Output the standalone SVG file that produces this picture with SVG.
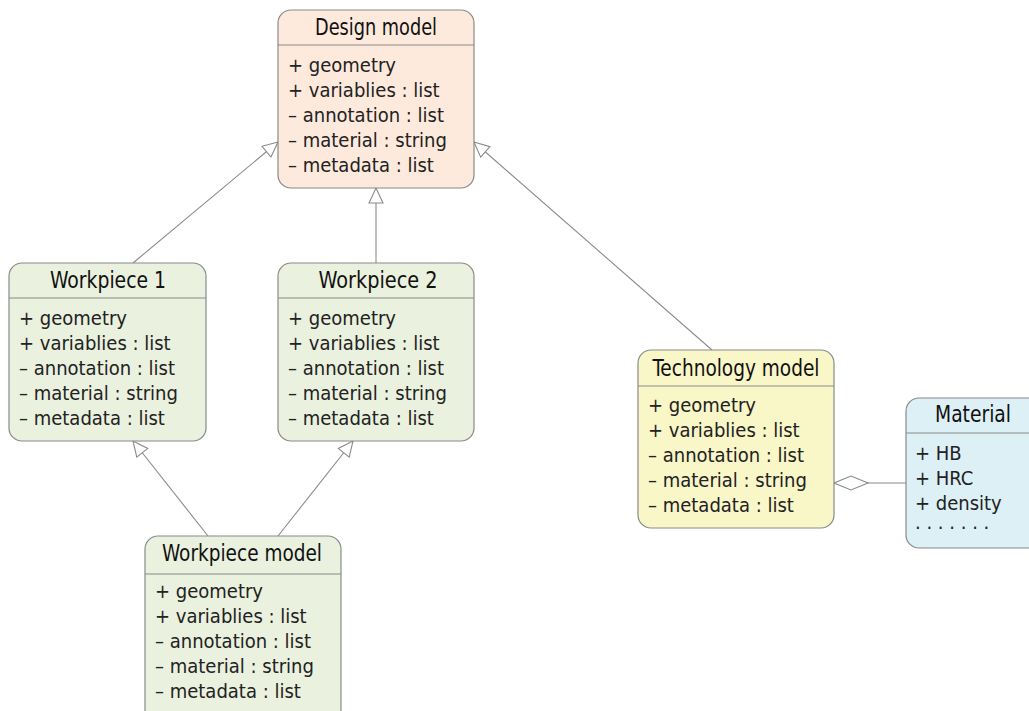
<svg xmlns="http://www.w3.org/2000/svg" width="1029" height="711" viewBox="0 0 1029 711">
<defs>
<style>
.box{stroke:#8a8a8a;stroke-width:1.2}
.sep{stroke:#8a8a8a;stroke-width:1.2}
.title{font-family:"Liberation Sans Narrow","DejaVu Sans Condensed","Liberation Sans",sans-serif;font-size:23px;fill:#111;text-anchor:middle}
.attr{font-family:"Liberation Sans Narrow","DejaVu Sans Condensed","Liberation Sans",sans-serif;font-size:20px;fill:#222}
.conn{stroke:#8a8a8a;stroke-width:1.1;fill:none}
</style>
<marker id="tri" markerWidth="18" markerHeight="16" refX="16" refY="8" orient="auto" markerUnits="userSpaceOnUse">
<path d="M1,1 L16,8 L1,15 Z" fill="#fff" stroke="#8a8a8a" stroke-width="1.1"/>
</marker>
<marker id="dia" markerWidth="36" markerHeight="18" refX="35" refY="9" orient="auto" markerUnits="userSpaceOnUse">
<path d="M1,9 L18,2 L35,9 L18,16 Z" fill="#fff" stroke="#8a8a8a" stroke-width="1.1"/>
</marker>
</defs>
<rect width="1029" height="711" fill="#fff"/>
<g id="connectors">
<line class="conn" x1="133" y1="263" x2="278" y2="142" marker-end="url(#tri)"/>
<line class="conn" x1="376" y1="263" x2="376" y2="188" marker-end="url(#tri)"/>
<line class="conn" x1="712" y1="350" x2="474" y2="142" marker-end="url(#tri)"/>
<line class="conn" x1="208" y1="536" x2="133" y2="441" marker-end="url(#tri)"/>
<line class="conn" x1="278" y1="536" x2="353" y2="441" marker-end="url(#tri)"/>
<line class="conn" x1="906" y1="483" x2="834" y2="483" marker-end="url(#dia)"/>
</g>
<g id="design-model">
<rect class="box" x="278" y="10" width="196" height="178" rx="13" fill="#fdeadd"/>
<line class="sep" x1="278" y1="45" x2="474" y2="45"/>
<text class="title" x="376" y="35" textLength="122" lengthAdjust="spacingAndGlyphs">Design model</text>
<text class="attr" x="288" y="72">+ geometry</text>
<text class="attr" x="288" y="97">+ variablies : list</text>
<text class="attr" x="288" y="122">– annotation : list</text>
<text class="attr" x="288" y="147">– material : string</text>
<text class="attr" x="288" y="172">– metadata : list</text>
</g>
<g id="workpiece-1">
<rect class="box" x="9" y="263" width="197" height="178" rx="13" fill="#eaf1de"/>
<line class="sep" x1="9" y1="298" x2="206" y2="298"/>
<text class="title" x="108" y="288" textLength="116" lengthAdjust="spacingAndGlyphs">Workpiece 1</text>
<text class="attr" x="19" y="325">+ geometry</text>
<text class="attr" x="19" y="350">+ variablies : list</text>
<text class="attr" x="19" y="375">– annotation : list</text>
<text class="attr" x="19" y="400">– material : string</text>
<text class="attr" x="19" y="425">– metadata : list</text>
</g>
<g id="workpiece-2">
<rect class="box" x="278" y="263" width="196" height="178" rx="13" fill="#eaf1de"/>
<line class="sep" x1="278" y1="298" x2="474" y2="298"/>
<text class="title" x="378" y="288" textLength="119" lengthAdjust="spacingAndGlyphs">Workpiece 2</text>
<text class="attr" x="288" y="325">+ geometry</text>
<text class="attr" x="288" y="350">+ variablies : list</text>
<text class="attr" x="288" y="375">– annotation : list</text>
<text class="attr" x="288" y="400">– material : string</text>
<text class="attr" x="288" y="425">– metadata : list</text>
</g>
<g id="technology-model">
<rect class="box" x="638" y="350" width="196" height="178" rx="13" fill="#f9f6c8"/>
<line class="sep" x1="638" y1="386" x2="834" y2="386"/>
<text class="title" x="736" y="376" textLength="167" lengthAdjust="spacingAndGlyphs">Technology model</text>
<text class="attr" x="648" y="412">+ geometry</text>
<text class="attr" x="648" y="437">+ variablies : list</text>
<text class="attr" x="648" y="462">– annotation : list</text>
<text class="attr" x="648" y="487">– material : string</text>
<text class="attr" x="648" y="512">– metadata : list</text>
</g>
<g id="material">
<rect class="box" x="906" y="398" width="140" height="150" rx="13" fill="#dcf0f6"/>
<line class="sep" x1="906" y1="433" x2="1046" y2="433"/>
<text class="title" x="973" y="422" textLength="76" lengthAdjust="spacingAndGlyphs">Material</text>
<text class="attr" x="915" y="460">+ HB</text>
<text class="attr" x="915" y="485">+ HRC</text>
<text class="attr" x="915" y="510">+ density</text>
<text class="attr" x="915" y="535">· · · · · · ·</text>
</g>
<g id="workpiece-model">
<rect class="box" x="145" y="536" width="196" height="190" rx="13" fill="#eaf1de"/>
<line class="sep" x1="145" y1="574" x2="341" y2="574"/>
<text class="title" x="242" y="561" textLength="160" lengthAdjust="spacingAndGlyphs">Workpiece model</text>
<text class="attr" x="155" y="598">+ geometry</text>
<text class="attr" x="155" y="623">+ variablies : list</text>
<text class="attr" x="155" y="648">– annotation : list</text>
<text class="attr" x="155" y="673">– material : string</text>
<text class="attr" x="155" y="698">– metadata : list</text>
</g>
</svg>
